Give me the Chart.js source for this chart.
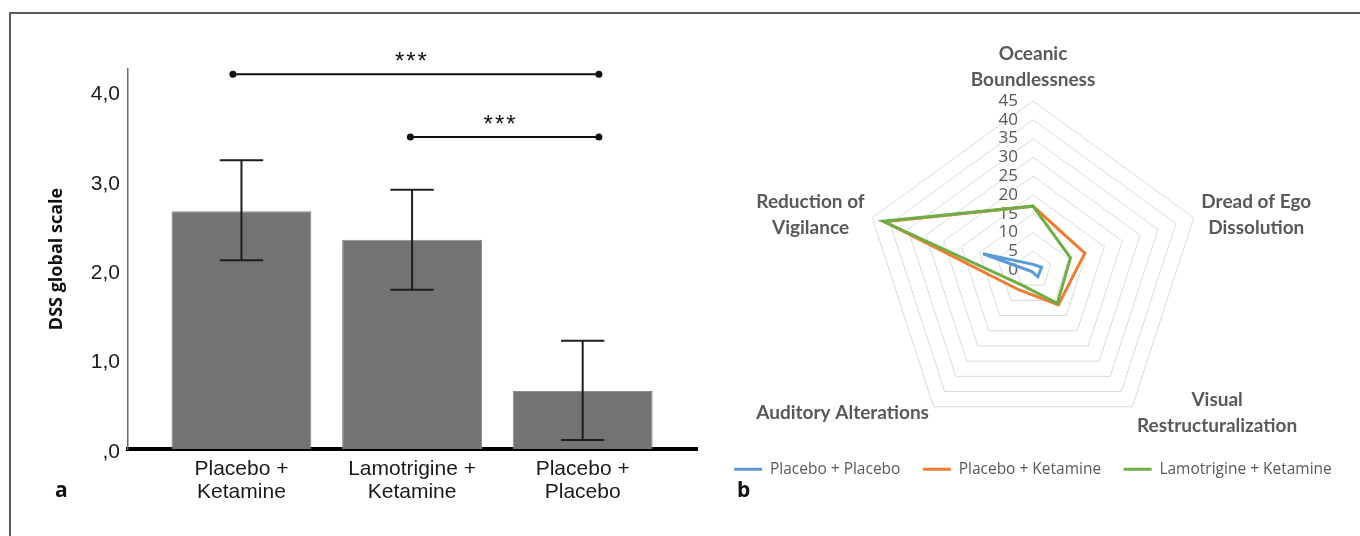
<!DOCTYPE html>
<html>
<head>
<meta charset="utf-8">
<script src="https://cdn.jsdelivr.net/npm/chart.js@4.4.1/dist/chart.umd.min.js"></script>
<style>
  html, body { margin: 0; padding: 0; background: #fff; overflow: hidden; }
  body { width: 1360px; height: 536px; position: relative; }
  #frame { position: absolute; left: 9px; top: 12px; width: 1400px; height: 600px; border: 2px solid #5a5a5a; box-sizing: border-box; }
  #barWrap { position: absolute; left: 0; top: 0; width: 720px; height: 536px; }
  #radarWrap { position: absolute; left: 700px; top: 30px; width: 666px; height: 457px; }
  .panel { position: absolute; font-family: "Open Sans"; font-weight: 700; font-size: 21px; line-height: 21px; color: #111; }
</style>
</head>
<body>
<div id="frame"></div>
<div id="barWrap"><canvas id="bar"></canvas></div>
<div id="radarWrap"><canvas id="radar"></canvas></div>
<div class="panel" style="left:55px;top:479px">a</div>
<div class="panel" style="left:737px;top:479px">b</div>
<script>
// panel a: DSS global scale, mean with 95% CI
const categories = [['Placebo +', 'Ketamine'], ['Lamotrigine +', 'Ketamine'], ['Placebo +', 'Placebo']];
const meanDSS = [2.66, 2.34, 0.65];
const ciLow = [2.11, 1.78, 0.10];
const ciHigh = [3.23, 2.90, 1.21];
const yTicks = [0, 1, 2, 3, 4];
const yTickLabels = [',0', '1,0', '2,0', '3,0', '4,0'];
// significance brackets (x in category units, y in scale units)
const sigFrom = [-0.05, 0.99];
const sigTo = [2.095, 2.095];
const sigLevel = [4.19, 3.49];
const sigText = ['***', '***'];

// panel b: 5D-ASC dimensions
const radarAxes = [['Oceanic', 'Boundlessness'], ['Dread of Ego', 'Dissolution'], ['Visual', 'Restructuralization'], ['Auditory Alterations'], ['Reduction of', 'Vigilance']];
const placeboPlacebo = [1.5, 2.4, 2.2, 0.5, 14];
const placeboKetamine = [17, 14.5, 11.5, 6.5, 41.5];
const lamotrigineKetamine = [17, 10.5, 11, 5, 42];

Chart.defaults.font.family = '"Liberation Sans", Arial, sans-serif';
Chart.defaults.animation = false;

const barExtras = {
    id: 'barExtras',
    afterDatasetsDraw(chart) {
        const ctx = chart.ctx;
        const x = chart.scales.x, y = chart.scales.y;
        const bars = chart.getDatasetMeta(0).data;
        ctx.save();
        ctx.strokeStyle = '#1e1e1e';
        ctx.lineWidth = 2;
        bars.forEach(function(b, i) {
            const top = y.getPixelForValue(ciHigh[i]);
            const bot = y.getPixelForValue(ciLow[i]);
            const cap = b.width * 0.155;
            ctx.beginPath();
            ctx.moveTo(b.x, top); ctx.lineTo(b.x, bot);
            ctx.moveTo(b.x - cap, top); ctx.lineTo(b.x + cap, top);
            ctx.moveTo(b.x - cap, bot); ctx.lineTo(b.x + cap, bot);
            ctx.stroke();
        });
        ctx.fillStyle = '#111';
        ctx.strokeStyle = '#111';
        ctx.font = '24px "Liberation Sans"';
        ctx.letterSpacing = '2px';
        ctx.textAlign = 'center';
        ctx.textBaseline = 'alphabetic';
        sigLevel.forEach(function(v, i) {
            const yy = y.getPixelForValue(v);
            const x1 = x.getPixelForValue(sigFrom[i]);
            const x2 = x.getPixelForValue(sigTo[i]);
            ctx.beginPath();
            ctx.moveTo(x1, yy); ctx.lineTo(x2, yy);
            ctx.stroke();
            [x1, x2].forEach(function(px) {
                ctx.beginPath();
                ctx.arc(px, yy, 3.5, 0, Math.PI * 2);
                ctx.fill();
            });
            ctx.fillText(sigText[i], (x1 + x2) / 2 - 4, yy - 5);
        });
        ctx.restore();
    }
};

new Chart(document.getElementById('bar'), {
    type: 'bar',
    data: {
        datasets: [{
            data: meanDSS.map(function(v, i) { return { x: i, y: v }; }),
            backgroundColor: '#737373',
            borderColor: '#8e8e8e',
            borderWidth: 1,
            barPercentage: 0.82,
            categoryPercentage: 1
        }]
    },
    options: {
        responsive: true,
        maintainAspectRatio: false,
        layout: { padding: { top: 69, right: 23, bottom: 0, left: 0 } },
        scales: {
            x: {
                type: 'linear',
                offset: false,
                min: -0.665,
                max: 2.67,
                z: 1,
                afterBuildTicks: function(s) { s.ticks = categories.map(function(c, i) { return { value: i }; }); },
                afterFit: function(s) { s.height = 87; },
                grid: { display: false, drawTicks: false },
                border: { display: true, color: '#000', width: 4 },
                ticks: {
                    callback: function(v) { return categories[v]; },
                    autoSkip: false,
                    maxRotation: 0,
                    color: '#1a1a1a',
                    padding: 9,
                    font: { size: 21, lineHeight: '23px' }
                }
            },
            y: {
                min: 0,
                max: 4.25,
                afterBuildTicks: function(s) { s.ticks = yTicks.map(function(v) { return { value: v }; }); },
                afterFit: function(s) { s.width = 128; },
                grid: { display: false, drawTicks: false },
                border: { display: true, color: '#6b6b6b', width: 1.5 },
                ticks: {
                    callback: function(v) { return yTickLabels[yTicks.indexOf(v)]; },
                    color: '#1a1a1a',
                    padding: 8,
                    labelOffset: 3,
                    font: { size: 21 }
                },
                title: {
                    display: true,
                    text: 'DSS global scale',
                    color: '#111',
                    padding: { top: 46 },
                    font: { family: '"Open Sans"', weight: 'bold', size: 18 }
                }
            }
        },
        plugins: {
            legend: { display: false },
            tooltip: { enabled: false }
        }
    },
    plugins: [barExtras]
});

const radarText = {
    id: 'radarText',
    beforeDatasetsDraw(chart) {
        const r = chart.scales.r, ctx = chart.ctx;
        ctx.save();
        ctx.fillStyle = '#595959';
        ctx.font = '17px "Open Sans"';
        ctx.textAlign = 'right';
        ctx.textBaseline = 'middle';
        r.ticks.forEach(function(t) {
            ctx.fillText(t.label, r.xCenter - 15, r.yCenter - r.getDistanceFromCenterForValue(t.value));
        });
        ctx.restore();
    },
    afterDraw(chart) {
        const r = chart.scales.r, ctx = chart.ctx;
        const lh = 26;
        ctx.save();
        ctx.fillStyle = '#595959';
        ctx.font = 'bold 19px Lato';
        ctx.textAlign = 'center';
        ctx.textBaseline = 'middle';
        chart.data.labels.forEach(function(lines, i) {
            const p = r.getPointPosition(i, r.drawingArea + 8);
            const w = Math.max.apply(null, lines.map(function(s) { return ctx.measureText(s).width; }));
            const h = lines.length * lh;
            let cx = p.x;
            let top = p.y - h / 2;
            if (p.x > r.xCenter + 2) cx = p.x + w / 2;
            else if (p.x < r.xCenter - 2) cx = p.x - w / 2;
            else top = p.y - h;
            lines.forEach(function(s, k) { ctx.fillText(s, cx, top + lh * (k + 0.5)); });
        });
        ctx.restore();
    }
};

new Chart(document.getElementById('radar'), {
    type: 'radar',
    data: {
        labels: radarAxes,
        datasets: [
            { label: 'Placebo + Placebo', data: placeboPlacebo, borderColor: '#5b9bd5', backgroundColor: '#5b9bd5', pointBorderWidth: 3, order: 2 },
            { label: 'Placebo + Ketamine', data: placeboKetamine, borderColor: '#ed7d31', backgroundColor: '#ed7d31', pointBorderWidth: 3, order: 1 },
            { label: 'Lamotrigine + Ketamine', data: lamotrigineKetamine, borderColor: '#70ad47', backgroundColor: '#70ad47', pointBorderWidth: 3, order: 0 }
        ]
    },
    options: {
        responsive: true,
        maintainAspectRatio: false,
        layout: { padding: { top: 71, right: 0, bottom: 0, left: 0 } },
        elements: {
            line: { borderWidth: 3, tension: 0, fill: false },
            point: { radius: 0, hoverRadius: 0 }
        },
        scales: {
            r: {
                min: 0,
                max: 45,
                ticks: { display: false, stepSize: 5 },
                pointLabels: { display: false },
                angleLines: { display: false },
                grid: { color: '#d9d9d9', lineWidth: 1 }
            }
        },
        plugins: {
            legend: {
                position: 'bottom',
                labels: {
                    usePointStyle: true,
                    pointStyle: 'line',
                    pointStyleWidth: 28,
                    padding: 22.5,
                    color: '#595959',
                    font: { family: '"Open Sans"', size: 15.5 },
                    sort: function(a, b) { return a.datasetIndex - b.datasetIndex; }
                }
            },
            tooltip: { enabled: false }
        }
    },
    plugins: [radarText]
});
</script>
</body>
</html>
